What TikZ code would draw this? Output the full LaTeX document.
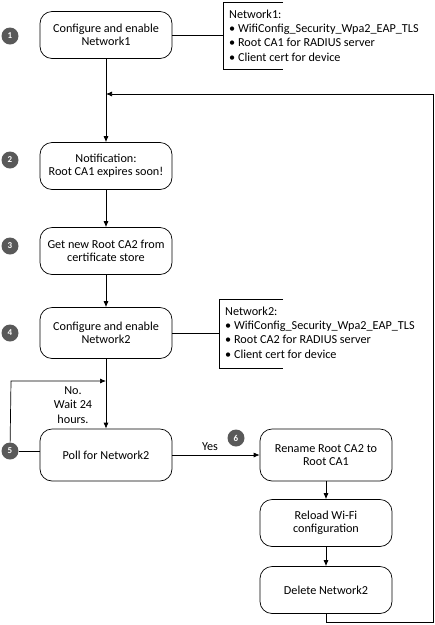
\documentclass[tikz,border=0pt]{standalone}
\usepackage{fontspec}
\setmainfont{Carlito}
\usetikzlibrary{arrows.meta}
\begin{document}
\begin{tikzpicture}[x=1pt,y=-1pt,
  font=\fontsize{12.2}{13.5}\selectfont,
  stepbox/.style={draw,rounded corners=12pt,minimum width=132pt,minimum height=47pt,align=center,line width=0.7pt},
  num/.style={circle,fill=black!65,text=white,inner sep=0pt,minimum size=17pt,font=\fontsize{9}{10}\selectfont\bfseries},
  arr/.style={-{Latex[length=6pt,width=5pt]},line width=0.7pt},
  ln/.style={line width=0.7pt},
  note/.style={align=left,anchor=north west,inner sep=0pt,font=\fontsize{12.2}{14.5}\selectfont}]
\useasboundingbox (0,0) rectangle (435,625);
% boxes
\node[stepbox] (b1) at (106,35) {Configure and enable\\Network1};
\node[stepbox] (b2) at (106,166) {Notification:\\Root CA1 expires soon!};
\node[stepbox] (b3) at (106,251) {Get new Root CA2 from\\certificate store};
\node[stepbox,minimum height=51pt] (b4) at (106,333) {Configure and enable\\Network2};
\node[stepbox,minimum height=52pt] (b5) at (106,455) {Poll for Network2};
\node[stepbox,minimum height=52pt] (b6) at (326,455) {Rename Root CA2 to\\Root CA1};
\node[stepbox] (b7) at (326,523) {Reload Wi-Fi\\configuration};
\node[stepbox] (b8) at (326,590) {Delete Network2};
% numbers
\node[num] (n1) at (10,36) {1};
\node[num] (n2) at (10,160) {2};
\node[num] (n3) at (10,246) {3};
\node[num] (n4) at (10,333) {4};
\node[num] (n5) at (10,451) {5};
\node[num] (n6) at (236,438) {6};
% notes
\coordinate (t1) at (223,35);
\draw[ln] (283,2) -- (223,2) -- (223,69) -- (283,69);
\node[note] (nt1) at (229,10) {Network1:\\[-1pt]%
\textbullet\ WifiConfig\_Security\_Wpa2\_EAP\_TLS\\
\textbullet\ Root CA1 for RADIUS server\\
\textbullet\ Client cert for device};
\coordinate (t2) at (219,333);
\draw[ln] (283,299) -- (219,299) -- (219,368) -- (283,368);
\node[note] (nt2) at (225,307) {Network2:\\[-1pt]%
\textbullet\ WifiConfig\_Security\_Wpa2\_EAP\_TLS\\
\textbullet\ Root CA2 for RADIUS server\\
\textbullet\ Client cert for device};
\draw[ln] (b1.east) -- (t1);
\draw[ln] (b4.east) -- (t2);
% main flow
\draw[arr] (b1) -- (b2);
\draw[arr] (b2) -- (b3);
\draw[arr] (b3) -- (b4);
\draw[arr] (b4) -- (b5);
\draw[arr] (b5.east |- 0,455) -- node[above=1pt,xshift=-6pt] (yes) {Yes} (b6.west |- 0,455);
\draw[arr] (b6) -- (b7);
\draw[arr] (b7) -- (b8);
% loop back
\coordinate (j1) at (106,94);
\coordinate (r1) at (433,94);
\coordinate (r2) at (433,622);
\coordinate (r3) at (326,622);
\draw[arr] (b8.south) -- (r3) -- (r2) -- (r1) -- (j1);
% wait loop
\coordinate (w1) at (11,381);
\coordinate (w2) at (106,381);
\draw[ln] (n5) -- (b5.west |- n5);
\draw[arr] (n5) -- (w1) -- (w2);
\node[align=center,font=\fontsize{12.2}{14.5}\selectfont] (wait) at (73,405) {No.\\Wait 24\\hours.};
\end{tikzpicture}
\end{document}
